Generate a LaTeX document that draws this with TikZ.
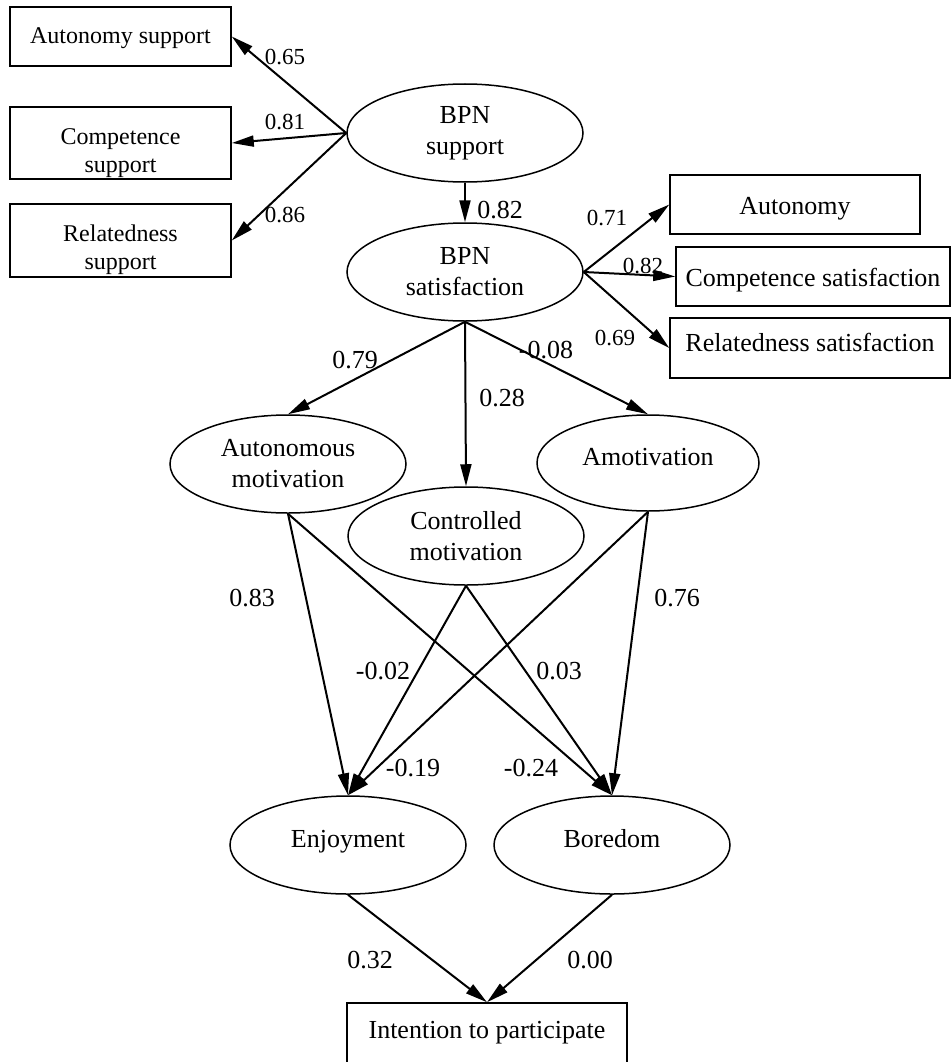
\documentclass[tikz,border=0pt]{standalone}
\usepackage{fontspec}
\setmainfont{Liberation Serif}
\usetikzlibrary{shapes.geometric,arrows.meta}
\begin{document}
\begin{tikzpicture}[x=1pt,y=-1pt,
 ell/.style={draw,ellipse,line width=1.5pt,minimum width=236pt,minimum height=98pt,inner sep=0pt,align=center,font=\fontsize{26}{31}\selectfont},
 oneline/.style={text height=18pt,text depth=14pt},
 box/.style={draw,rectangle,line width=1.5pt,inner sep=0pt},
 txt/.style={align=center,inner sep=0pt,font=\fontsize{26}{31}\selectfont},
 stxt/.style={align=center,inner sep=0pt,font=\fontsize{24}{28}\selectfont},
 lab/.style={inner sep=0pt,font=\fontsize{26}{30}\selectfont},
 slab/.style={inner sep=0pt,font=\fontsize{23}{28}\selectfont},
 arr/.style={line width=2pt,-{Triangle[length=22pt,width=11pt]}}]
\useasboundingbox (0,0) rectangle (952,1062);
\fill[white] (0,0) rectangle (952,1062);
\clip (0,0) rectangle (952,1062);

% ellipses
\node[ell] (bs) at (465,133) {BPN\\support};
\node[ell] (bsat) at (465,272) {BPN\\satisfaction};
\node[ell] (am) at (288,464) {Autonomous\\motivation};
\node[ell] (cm) at (466,536) {Controlled\\motivation};
\node[ell,oneline,minimum width=222pt,minimum height=96pt] (amo) at (648,463) {Amotivation};
\node[ell,oneline] (enj) at (348,845) {Enjoyment};
\node[ell,oneline] (bor) at (612,845) {Boredom};

% boxes
\node[box,minimum width=221pt,minimum height=59pt] (asup) at (120.5,36.5) {};
\node[box,minimum width=221pt,minimum height=72pt] (csup) at (120.5,143) {};
\node[box,minimum width=221pt,minimum height=73pt] (rsup) at (120.5,240.5) {};
\node[box,minimum width=250pt,minimum height=59pt] (asat) at (795,204.5) {};
\node[box,minimum width=274pt,minimum height=59pt] (csat) at (813,276.5) {};
\node[box,minimum width=280pt,minimum height=60pt] (rsat) at (810,348) {};
\node[box,minimum width=280pt,minimum height=80pt] (intn) at (487,1043) {};

% box texts
\node[stxt] (asupt) at (120.5,38) {Autonomy support};
\node[stxt] (csupt) at (120.5,153) {Competence\\support};
\node[stxt] (rsupt) at (120.5,250) {Relatedness\\support};
\node[txt] (asatt) at (795,209) {Autonomy};
\node[txt] (csatt) at (813,280) {Competence satisfaction};
\node[txt] (rsatt) at (810,342) {Relatedness satisfaction};
\node[txt] (intnt) at (487,1033) {Intention to participate};

% connectors
\draw[arr] (bs.west) -- (asup.east);
\draw[arr] (bs.west) -- (csup.east);
\draw[arr] (bs.west) -- (rsup.east);
\draw[arr] (bs.south) -- (bsat.north);
\draw[arr] (bsat.east) -- (asat.west);
\draw[arr] (bsat.east) -- (csat.west);
\draw[arr] (bsat.east) -- (rsat.west);
\draw[arr] (bsat.south) -- (am.north);
\draw[arr] (bsat.south) -- (cm.north);
\draw[arr] (bsat.south) -- (amo.north);
\draw[arr] (am.south) -- (enj.north);
\draw[arr] (am.south) -- (bor.north);
\draw[arr] (cm.south) -- (enj.north);
\draw[arr] (cm.south) -- (bor.north);
\draw[arr] (amo.south) -- (enj.north);
\draw[arr] (amo.south) -- (bor.north);
\draw[arr] (enj.south) -- (intn.north);
\draw[arr] (bor.south) -- (intn.north);

% labels
\node[slab] (l1) at (285,57) {0.65};
\node[slab] (l2) at (285,122) {0.81};
\node[slab] (l3) at (285,215) {0.86};
\node[lab] (l4) at (500,210) {0.82};
\node[slab] (l5) at (607,218) {0.71};
\node[slab] (l6) at (643,266) {0.82};
\node[slab] (l7) at (615,338) {0.69};
\node[lab] (l8) at (355,360) {0.79};
\node[lab] (l9) at (502,398) {0.28};
\node[lab] (l10) at (546,350) {-0.08};
\node[lab] (l11) at (252,598) {0.83};
\node[lab] (l12) at (677,598) {0.76};
\node[lab] (l13) at (383,671) {-0.02};
\node[lab] (l14) at (559,671) {0.03};
\node[lab] (l15) at (413,768) {-0.19};
\node[lab] (l16) at (531,768) {-0.24};
\node[lab] (l17) at (370,960) {0.32};
\node[lab] (l18) at (590,960) {0.00};
\end{tikzpicture}
\end{document}
